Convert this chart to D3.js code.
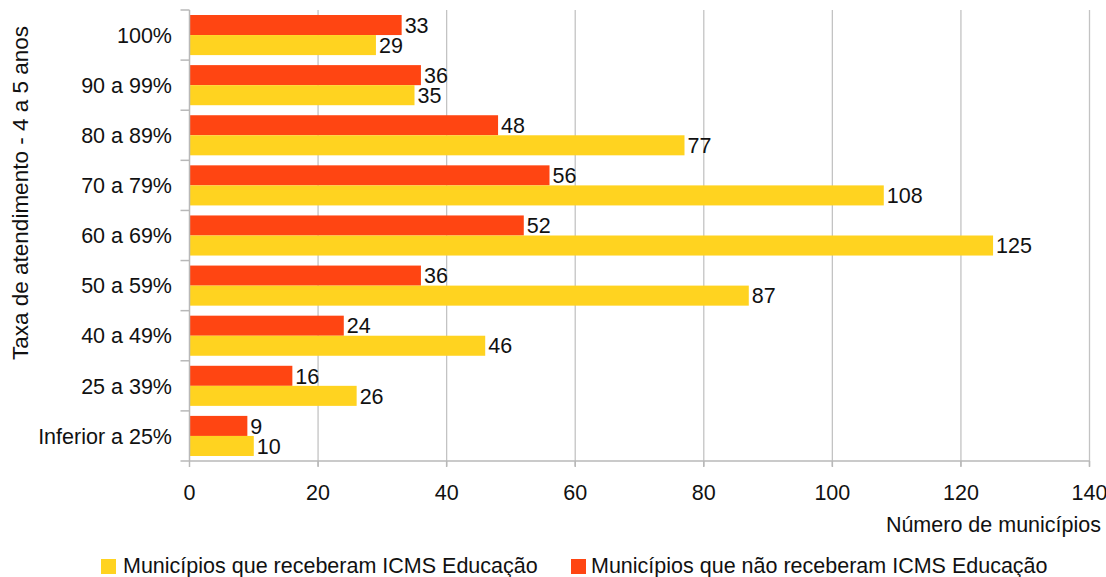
<!DOCTYPE html>
<html><head><meta charset="utf-8">
<script src="https://cdn.jsdelivr.net/npm/d3@7"></script>
<style>
body{margin:0;background:#fff;}
text{font-family:"Liberation Sans",Arial,sans-serif;fill:#111;}
</style></head><body>
<svg id="c" width="1106" height="577"></svg>
<script>
const categories = ["100%","90 a 99%","80 a 89%","70 a 79%","60 a 69%","50 a 59%","40 a 49%","25 a 39%","Inferior a 25%"];
const naoReceberam = [33,36,48,56,52,36,24,16,9];
const receberam = [29,35,77,108,125,87,46,26,10];
const xTicks = [0,20,40,60,80,100,120,140];
const seriesNames = ["Municípios que receberam ICMS Educação","Municípios que não receberam ICMS Educação"];
const colors = {rec:"#FFD320", nao:"#FF4512"};

const svg = d3.select("#c");
const L = 189.5, R = 1089.5, T = 10, B = 461;
const x = d3.scaleLinear().domain([0,140]).range([L,R]);
const y = d3.scaleBand().domain(categories).range([T,B]).paddingInner(0.2).paddingOuter(0.1);
const fs = "21.5px";

// gridlines
svg.append("g").selectAll("line").data(xTicks.slice(1)).join("line")
  .attr("x1",d=>x(d)).attr("x2",d=>x(d)).attr("y1",T).attr("y2",B+5)
  .attr("stroke","#c3c3c3").attr("stroke-width",1.3);

const sub = y.bandwidth()/2;
const g = svg.append("g");
categories.forEach((c,i)=>{
  g.append("rect").attr("x",x(0)).attr("y",y(c)).attr("width",x(naoReceberam[i])-x(0)).attr("height",sub).attr("fill",colors.nao);
  g.append("rect").attr("x",x(0)).attr("y",y(c)+sub).attr("width",x(receberam[i])-x(0)).attr("height",sub).attr("fill",colors.rec);
  g.append("text").attr("x",x(naoReceberam[i])+3).attr("y",y(c)+sub/2).attr("dy","0.36em")
    .style("font-size",fs).text(naoReceberam[i]);
  g.append("text").attr("x",x(receberam[i])+3).attr("y",y(c)+sub*1.5).attr("dy","0.36em")
    .style("font-size",fs).text(receberam[i]);
});

// y axis
const yAxis = svg.append("g");
yAxis.append("line").attr("x1",L).attr("x2",L).attr("y1",T).attr("y2",B).attr("stroke","#b8b8b8").attr("stroke-width",1.5);
const step = (B-T)/categories.length;
d3.range(categories.length+1).forEach(i=>{
  yAxis.append("line").attr("x1",L-9).attr("x2",L).attr("y1",T+i*step).attr("y2",T+i*step).attr("stroke","#b8b8b8").attr("stroke-width",1.5);
});
yAxis.selectAll("text").data(categories).join("text")
  .attr("x",172).attr("y",d=>y(d)+y.bandwidth()/2).attr("dy","0.36em").attr("text-anchor","end")
  .style("font-size",fs).text(d=>d);

// x axis
const xAxis = svg.append("g");
xAxis.append("line").attr("x1",L).attr("x2",R).attr("y1",B).attr("y2",B).attr("stroke","#b8b8b8").attr("stroke-width",1.5);
xAxis.selectAll("line.t").data(xTicks).join("line").attr("class","t")
  .attr("x1",d=>x(d)).attr("x2",d=>x(d)).attr("y1",B).attr("y2",B+6).attr("stroke","#b8b8b8").attr("stroke-width",1.5);
xAxis.selectAll("text").data(xTicks).join("text")
  .attr("x",d=>x(d)).attr("y",500).attr("text-anchor","middle")
  .style("font-size",fs).text(d=>d);

svg.append("text").attr("x",1101).attr("y",532).attr("text-anchor","end")
  .style("font-size",fs).text("Número de municípios");
svg.append("text").attr("transform","translate(28,193) rotate(-90)").attr("text-anchor","middle")
  .style("font-size","22.5px").text("Taxa de atendimento - 4 a 5 anos");

// legend
const leg = svg.append("g");
leg.append("rect").attr("x",101).attr("y",559).attr("width",15).attr("height",15).attr("fill",colors.rec);
leg.append("text").attr("x",123).attr("y",573).style("font-size","21.5px").text(seriesNames[0]);
leg.append("rect").attr("x",571).attr("y",559).attr("width",15).attr("height",15).attr("fill",colors.nao);
leg.append("text").attr("x",591).attr("y",573).style("font-size","21.5px").text(seriesNames[1]);
</script></body></html>
